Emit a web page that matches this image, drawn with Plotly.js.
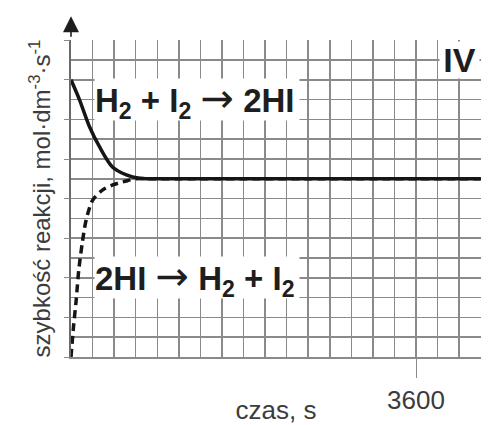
<!DOCTYPE html>
<html>
<head>
<meta charset="utf-8">
<script src="https://cdn.plot.ly/plotly-3.0.1.min.js"></script>
<style>html,body{margin:0;padding:0;background:#fff;}</style>
</head>
<body>
<div id="chart" style="width:490px;height:425px;"></div>
<script>
// time in seconds (one grid cell = 225 s), rate in grid units
const forwardTime = [0, 88, 193, 297, 432, 578, 714, 870, 4275];
const forwardRate = [14.0, 13.0, 11.63, 10.62, 9.6, 9.2, 9.03, 9.0, 9.0];
const reverseTime = [0, 26, 54, 81, 117, 158, 227, 331, 435, 575, 679, 870, 4275];
const reverseRate = [0, 1.52, 2.87, 4.39, 5.74, 6.92, 7.93, 8.44, 8.69, 8.89, 9.0, 9.0, 9.0];
const xTickVals = [3600];
const xTickText = ['3600'];
const arrow = '<span style="font-family:\'DejaVu Sans\';font-weight:normal;font-size:40px">\u2192</span>';
const labelForward = 'H<sub>2</sub> + I<sub>2</sub> ' + arrow + ' 2HI';
const labelReverse = '2HI ' + arrow + ' H<sub>2</sub> + I<sub>2</sub>';
const panelLabel = 'IV';
const xTitle = 'czas, s';
const yTitle = 'szybkość reakcji, mol·dm<sup>-3</sup>·s<sup>-1</sup>';

const gridColor = '#8a8a8a';
const textFont = 'Liberation Sans, Arial, sans-serif';
const xRange = [0, 4278];
const yRange = [0, 16.01];

const traces = [
  {x: forwardTime, y: forwardRate, xaxis: 'x', yaxis: 'y', mode: 'lines',
   line: {color: '#151515', width: 3.5, shape: 'spline', smoothing: 0.8}, hoverinfo: 'skip'},
  {x: reverseTime, y: reverseRate, xaxis: 'x2', yaxis: 'y2', mode: 'lines',
   line: {color: '#151515', width: 3.5, dash: '8px,5px', shape: 'spline', smoothing: 0.8}, hoverinfo: 'skip'}
];

const layout = {
  width: 490, height: 425,
  margin: {l: 71, r: 9, t: 40, b: 68},
  paper_bgcolor: '#fff', plot_bgcolor: '#fff',
  showlegend: false,
  xaxis: {
    range: xRange, fixedrange: true,
    tickmode: 'linear', tick0: 0, dtick: 225,
    ticks: '', showticklabels: false,
    showgrid: true, gridcolor: gridColor, gridwidth: 1.5,
    zeroline: false, showline: true, linecolor: gridColor, linewidth: 1.5
  },
  xaxis2: {
    overlaying: 'x', anchor: 'y', side: 'bottom',
    range: xRange, fixedrange: true,
    tickmode: 'array', tickvals: xTickVals, ticktext: xTickText,
    ticks: 'outside', ticklen: 20, tickwidth: 1, tickcolor: gridColor,
    showgrid: false, zeroline: false, showline: false,
    tickfont: {family: textFont, size: 26, color: '#3c3c3c'},
    title: {text: xTitle, font: {family: textFont, size: 26, color: '#3c3c3c'}, standoff: 0}
  },
  yaxis: {
    range: yRange, fixedrange: true,
    tickmode: 'linear', tick0: 0, dtick: 1,
    ticks: '', showticklabels: false,
    showgrid: true, gridcolor: gridColor, gridwidth: 1.5,
    zeroline: false, showline: true, linecolor: '#6a6a6a', linewidth: 1.6,
    title: {text: yTitle, font: {family: textFont, size: 24, color: '#3c3c3c'}, standoff: 12}
  },
  yaxis2: {
    overlaying: 'y', anchor: 'x', side: 'left',
    range: yRange, fixedrange: true,
    tickmode: 'linear', tick0: 0, dtick: 2,
    ticks: 'outside', ticklen: 6, tickwidth: 1, tickcolor: gridColor,
    showticklabels: false, showgrid: false, zeroline: false, showline: false
  },
  annotations: [
    {x: 245, y: 13.0, xref: 'x', yref: 'y', text: labelForward, showarrow: false,
     xanchor: 'left', yanchor: 'middle', align: 'left', width: 204, height: 41,
     bgcolor: '#fff', borderpad: 0,
     font: {family: textFont, size: 33, color: '#1e1e1e', weight: 'bold'}},
    {x: 245, y: 4.0, xref: 'x', yref: 'y', text: labelReverse, showarrow: false,
     xanchor: 'left', yanchor: 'middle', align: 'left', width: 204, height: 41,
     bgcolor: '#fff', borderpad: 0,
     font: {family: textFont, size: 33, color: '#1e1e1e', weight: 'bold'}},
    {x: 3839, y: 15.0, xref: 'x', yref: 'y', text: panelLabel, showarrow: false,
     xanchor: 'left', yanchor: 'middle', align: 'center', width: 39, height: 36,
     bgcolor: '#fff', borderpad: 0,
     font: {family: textFont, size: 34, color: '#1e1e1e', weight: 'bold'}},
    // axis arrow heads
    {x: 0, y: 1.075, xref: 'x', yref: 'paper', ax: 0, ay: 22, axref: 'pixel', ayref: 'pixel',
     text: '', showarrow: true, arrowhead: 2, arrowsize: 2, arrowwidth: 1.6, arrowcolor: '#1e1e1e'},
    {x: 1.045, y: 0, xref: 'paper', yref: 'y', ax: -6, ay: 0, axref: 'pixel', ayref: 'pixel',
     text: '', showarrow: true, arrowhead: 2, arrowsize: 1.4, arrowwidth: 1.6, arrowcolor: '#1e1e1e'}
  ]
};

Plotly.newPlot('chart', traces, layout, {staticPlot: true, displayModeBar: false});
</script>
</body>
</html>
